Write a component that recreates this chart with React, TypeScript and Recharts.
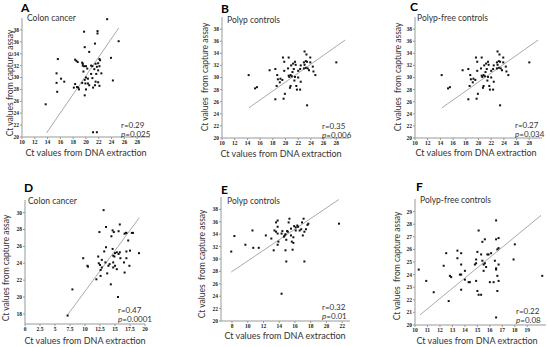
import { ScatterChart, Scatter, XAxis, YAxis, ReferenceLine } from 'recharts';

// points: [DNA extraction Ct, capture assay Ct]
const colonA: [number, number][] = [
  [23.3, 39.8], [19.7, 37.7], [21.8, 37.8], [21.8, 37.4], [25.1, 36.1], [21.4, 35.7],
  [15.6, 33.1], [19.8, 35.1], [20.5, 34.3], [23.9, 33.3], [18.3, 33.0], [18.5, 32.8],
  [18.7, 32.6], [19.4, 32.5], [19.5, 32.3], [22.1, 33.1], [22.2, 32.9], [21.9, 32.4],
  [21.5, 32.3], [19.5, 32.0], [19.7, 31.9], [20.0, 31.9], [20.8, 32.0], [21.0, 31.9],
  [21.7, 31.8], [22.1, 31.9], [15.4, 30.7], [16.1, 29.8], [16.6, 29.3], [15.4, 29.1],
  [20.2, 31.5], [21.3, 31.4], [21.9, 31.2], [19.6, 31.0], [20.8, 30.6], [21.6, 30.6],
  [22.4, 30.7], [24.2, 29.5], [20.0, 30.0], [20.3, 29.8], [19.8, 29.6], [21.0, 29.9],
  [21.5, 29.3], [21.9, 29.2], [22.1, 28.6], [18.3, 28.9], [18.6, 28.4], [18.8, 28.3],
  [18.9, 28.0], [19.4, 29.1], [19.9, 29.0], [20.3, 29.0], [20.5, 28.7], [21.4, 28.7],
  [21.1, 28.3], [20.0, 28.0], [19.8, 27.0], [15.5, 27.6], [13.7, 25.5], [21.1, 20.8],
  [21.7, 20.8], [18.1, 28.3],
];
const polypB: [number, number][] = [
  [14.2, 30.4], [15.2, 28.2], [15.5, 28.4], [17.5, 31.2], [18.4, 31.4], [18.7, 30.4],
  [18.8, 29.7], [18.6, 28.6], [18.4, 26.4], [19.1, 29.2], [19.2, 29.8], [19.5, 29.6],
  [19.6, 33.3], [19.8, 32.6], [19.8, 31.1], [19.9, 27.3], [19.7, 26.5], [20.5, 33.3],
  [20.4, 31.5], [20.5, 30.3], [20.6, 30.1], [20.8, 30.4], [21.0, 30.2], [21.1, 30.9],
  [20.9, 32.0], [21.3, 31.4], [21.2, 32.3], [21.5, 32.6], [21.6, 32.1], [21.5, 30.1],
  [21.4, 29.5], [20.8, 28.6], [20.7, 28.3], [21.7, 28.6], [21.8, 28.0], [22.0, 30.0],
  [22.0, 31.1], [22.3, 31.4], [22.4, 29.3], [22.3, 28.0], [22.9, 32.5], [23.0, 34.3],
  [23.2, 32.7], [23.4, 32.6], [23.0, 32.1], [23.2, 31.6], [22.9, 31.5], [23.5, 31.5],
  [23.3, 33.8], [23.4, 25.4], [23.9, 32.5], [23.9, 33.3], [24.3, 31.8], [24.4, 31.0],
  [24.7, 30.4], [28.0, 32.5], [23.7, 31.2], [22.4, 32.0],
];
const colonD: [number, number][] = [
  [13.1, 30.3], [15.8, 28.6], [13.5, 28.3], [12.4, 27.7], [14.6, 27.9], [14.8, 27.7],
  [14.4, 27.2], [15.6, 27.8], [16.6, 27.5], [16.8, 27.6], [16.9, 27.6], [17.8, 27.6],
  [18.0, 27.6], [17.2, 26.7], [13.5, 25.9], [13.2, 25.4], [14.6, 25.7], [15.0, 25.2],
  [15.3, 25.3], [15.6, 25.1], [15.8, 25.3], [14.7, 24.9], [14.9, 24.8], [16.9, 25.4],
  [17.5, 25.5], [19.0, 25.2], [9.7, 24.6], [10.4, 23.7], [10.5, 23.6], [12.2, 24.8],
  [12.3, 24.0], [12.5, 23.8], [12.8, 24.4], [12.8, 23.5], [12.6, 23.2], [13.4, 24.1],
  [14.1, 23.9], [13.9, 23.7], [14.7, 24.1], [15.0, 23.7], [14.7, 23.5], [15.3, 23.3],
  [15.9, 24.6], [16.5, 24.1], [16.9, 24.6], [17.4, 23.7], [16.6, 22.9], [13.7, 22.8],
  [12.6, 22.5], [11.9, 22.1], [14.3, 21.5], [7.9, 20.9], [15.5, 20.0], [7.1, 17.8],
];
const polypE: [number, number][] = [
  [7.9, 31.2], [8.3, 33.7], [9.7, 32.3], [10.7, 31.8], [10.6, 34.6], [11.4, 31.8],
  [12.3, 33.8], [13.0, 33.3], [13.3, 31.4], [13.4, 34.6], [13.6, 35.9], [13.8, 36.2],
  [13.8, 35.2], [13.6, 34.4], [13.8, 34.1], [13.9, 32.8], [13.8, 32.3], [14.3, 34.1],
  [14.4, 34.5], [14.6, 33.6], [14.8, 34.0], [14.7, 33.8], [15.0, 34.5], [14.9, 33.1],
  [14.8, 31.4], [14.9, 29.6], [15.2, 35.9], [15.3, 36.5], [15.5, 34.9], [15.5, 33.8],
  [15.8, 33.5], [15.6, 32.8], [15.8, 32.6], [15.7, 31.5], [15.9, 35.3], [16.1, 35.1],
  [16.3, 35.4], [16.4, 35.2], [16.1, 34.6], [16.6, 34.6], [16.8, 34.8], [17.0, 33.8],
  [16.9, 35.9], [17.1, 36.5], [17.2, 34.4], [17.4, 34.8], [17.2, 29.6], [17.6, 35.5],
  [17.7, 35.7], [14.3, 24.4], [21.6, 35.7], [15.1, 34.4],
];
const polypFreeF: [number, number][] = [
  [10.3, 24.4], [10.9, 23.5], [11.5, 22.6], [12.3, 24.7], [12.5, 25.7], [12.7, 21.9],
  [12.8, 23.9], [12.9, 23.8], [13.4, 25.9], [13.4, 25.3], [13.7, 25.7], [13.7, 24.8],
  [13.6, 24.0], [13.7, 24.0], [13.7, 22.8], [14.0, 24.3], [14.0, 23.6], [14.3, 23.4],
  [14.4, 23.4], [14.9, 25.2], [14.9, 24.9], [14.8, 24.8], [15.0, 25.8], [15.1, 27.5],
  [14.9, 23.5], [15.0, 22.7], [15.1, 22.4], [15.3, 22.4], [15.3, 25.6], [15.4, 25.1],
  [15.4, 26.6], [15.6, 26.8], [15.5, 24.8], [15.6, 24.9], [15.7, 24.6], [15.5, 24.3],
  [15.8, 25.6], [15.9, 25.6], [16.1, 25.7], [16.0, 23.4], [16.3, 23.4], [16.4, 25.1],
  [16.5, 24.5], [16.5, 24.4], [16.5, 26.8], [16.5, 28.3], [16.6, 22.7], [16.5, 20.6],
  [16.7, 26.9], [16.6, 26.0], [16.7, 26.1], [16.7, 24.8], [16.6, 23.9], [16.7, 23.5],
  [18.0, 26.4], [17.9, 25.2], [20.2, 23.9],
];

// fitted lines: [x1, y1, x2, y2]
const fitA = [13.85, 20.7, 25.1, 38.3];
const fitB = [14.25, 25.0, 29.4, 36.2];
const fitD = [7.07, 17.85, 19.04, 29.4];
const fitE = [7.9, 27.9, 21.6, 39.6];
const fitF = [10.4, 20.8, 20.1, 28.7];

const ticks10to28 = [10, 12, 14, 16, 18, 20, 22, 24, 26, 28];
const ticks20to38 = [20, 22, 24, 26, 28, 30, 32, 34, 36, 38];
const ticksDx = [0, 2.5, 5, 7.5, 10, 12.5, 15, 17.5, 20];
const ticksDy = [18, 20, 22, 24, 26, 28, 30];
const ticksEx = [8, 10, 12, 14, 16, 18, 20, 22];
const ticksFx = [10, 11, 12, 13, 14, 15, 16, 17, 18, 19];
const ticksFy = [20, 21, 22, 23, 24, 25, 26, 27, 28, 29];

const YW = 14;
const XH = 10;
const RM = 8;
const tickStyle = { fontSize: 5.5, fontWeight: 700, fill: '#222', fontFamily: 'Liberation Serif' };
const TXT = "Lato, 'Liberation Sans', sans-serif";

const Dot = (props: any) => {
  const { cx, cy } = props;
  if (cx == null || cy == null) return <g />;
  return <rect x={cx - 1} y={cy - 1} width={2} height={2} fill="#111" />;
};

interface PanelProps {
  pts: [number, number][];
  fit: number[];
  box: { l: number; t: number; r: number; b: number };
  xDom: [number, number];
  yDom: [number, number];
  xTicks: number[];
  yTicks: number[];
}

function Panel({ pts, fit, box, xDom, yDom, xTicks, yTicks }: PanelProps) {
  const data = pts.map(([x, y]) => ({ x, y }));
  const w = box.r - box.l + YW + RM;
  const h = box.b - box.t + XH;
  return (
    <div style={{ position: 'absolute', left: box.l - YW, top: box.t }}>
      <ScatterChart width={w} height={h} margin={{ top: 0, right: RM, bottom: 0, left: 0 }}>
        <XAxis
          type="number"
          dataKey="x"
          domain={xDom}
          ticks={xTicks}
          interval={0}
          allowDataOverflow
          height={XH}
          tick={tickStyle}
          tickSize={2}
          tickMargin={1}
          axisLine={{ stroke: '#999' }}
          tickLine={{ stroke: '#999' }}
        />
        <YAxis
          type="number"
          dataKey="y"
          domain={yDom}
          ticks={yTicks}
          interval={0}
          allowDataOverflow
          width={YW}
          tick={tickStyle}
          tickSize={2}
          tickMargin={1}
          axisLine={{ stroke: '#999' }}
          tickLine={{ stroke: '#999' }}
        />
        <ReferenceLine
          segment={[{ x: fit[0], y: fit[1] }, { x: fit[2], y: fit[3] }]}
          stroke="#aaa"
          strokeWidth={1}
          ifOverflow="visible"
        />
        <Scatter data={data} shape={Dot} isAnimationActive={false} />
      </ScatterChart>
    </div>
  );
}

const T = ({ x, y, s, children, bold, center }: any) => (
  <div
    style={{
      position: 'absolute',
      left: x,
      top: y,
      fontSize: s,
      fontFamily: TXT,
      fontWeight: bold ? 700 : 400,
      color: bold ? '#000' : '#333',
      whiteSpace: 'pre',
      lineHeight: 1,
      transform: center ? 'translateX(-50%)' : undefined,
    }}
  >
    {children}
  </div>
);

const YTitle = ({ x, y, text }: { x: number; y: number; text: string }) => (
  <div
    style={{
      position: 'absolute',
      left: x,
      top: y,
      fontSize: 8.5,
      fontFamily: TXT,
      color: '#333',
      whiteSpace: 'pre',
      lineHeight: 1,
      transform: 'translate(-50%, -50%) rotate(-90deg)',
    }}
  >
    {text}
  </div>
);

const Stat = ({ x, y, r, p }: { x: number; y: number; r: string; p: string }) => (
  <>
    <T x={x} y={y} s={8}>r={r}</T>
    <T x={x} y={y + 8.5} s={8}>
      <i>p</i>={p}
    </T>
  </>
);

export default function App() {
  return (
    <div style={{ position: 'absolute', left: 0, top: 0, width: 550, height: 347, background: '#fff', overflow: 'hidden' }}>
      <Panel pts={colonA} fit={fitA} box={{ l: 22, t: 18, r: 150, b: 137 }} xDom={[10, 30]} yDom={[20, 40]} xTicks={ticks10to28} yTicks={ticks20to38} />
      <Panel pts={polypB} fit={fitB} box={{ l: 222, t: 17, r: 349, b: 138 }} xDom={[10, 30]} yDom={[20, 40]} xTicks={ticks10to28} yTicks={ticks20to38} />
      <Panel pts={polypB} fit={fitB} box={{ l: 415, t: 17, r: 542, b: 138 }} xDom={[10, 30]} yDom={[20, 40]} xTicks={ticks10to28} yTicks={ticks20to38} />
      <Panel pts={colonD} fit={fitD} box={{ l: 25, t: 200, r: 145, b: 324 }} xDom={[0, 20]} yDom={[16.8, 31.5]} xTicks={ticksDx} yTicks={ticksDy} />
      <Panel pts={polypE} fit={fitE} box={{ l: 221, t: 197, r: 350, b: 321 }} xDom={[6.6, 23]} yDom={[20, 40]} xTicks={ticksEx} yTicks={ticks20to38} />
      <Panel pts={polypFreeF} fit={fitF} box={{ l: 415, t: 199, r: 546, b: 325 }} xDom={[10, 20.5]} yDom={[20, 30]} xTicks={ticksFx} yTicks={ticksFy} />

      <T x={21} y={2} s={12} bold>A</T>
      <T x={221} y={3} s={12} bold>B</T>
      <T x={410} y={1} s={12} bold>C</T>
      <T x={24} y={182} s={12} bold>D</T>
      <T x={221} y={184} s={12} bold>E</T>
      <T x={416} y={181} s={12} bold>F</T>

      <T x={27} y={14} s={8.5}>Colon cancer</T>
      <T x={227} y={16} s={8.5}>Polyp controls</T>
      <T x={417} y={14} s={8.5}>Polyp-free controls</T>
      <T x={28} y={197} s={8.5}>Colon cancer</T>
      <T x={227} y={197} s={8.5}>Polyp controls</T>
      <T x={420} y={196} s={8.5}>Polyp-free controls</T>

      <T x={86} y={148} s={9} center>Ct values from DNA extraction</T>
      <T x={281} y={149} s={9} center>Ct values from DNA extraction</T>
      <T x={476} y={148} s={9} center>Ct values from DNA extraction</T>
      <T x={85} y={336} s={9} center>Ct values from DNA extraction</T>
      <T x={285} y={331} s={9} center>Ct values from DNA extraction</T>
      <T x={477} y={336} s={9} center>Ct values from DNA extraction</T>

      <YTitle x={10} y={83} text="Ct values from capture assay" />
      <YTitle x={205} y={77} text="Ct values  from capture assay" />
      <YTitle x={398} y={77} text="Ct values  from capture assay" />
      <YTitle x={6} y={268} text="Ct values from capture assay" />
      <YTitle x={202} y={264} text="Ct values  from capture assay" />
      <YTitle x={397} y={266} text="Ct values  from capture assay" />

      <Stat x={121} y={121} r="0.29" p="0.025" />
      <Stat x={322} y={122} r="0.35" p="0.006" />
      <Stat x={515} y={121} r="0.27" p="0.034" />
      <Stat x={118} y={306} r="0.47" p="0.0001" />
      <Stat x={322} y={303} r="0.32" p="0.01" />
      <Stat x={516} y={307} r="0.22" p="0.08" />
    </div>
  );
}
